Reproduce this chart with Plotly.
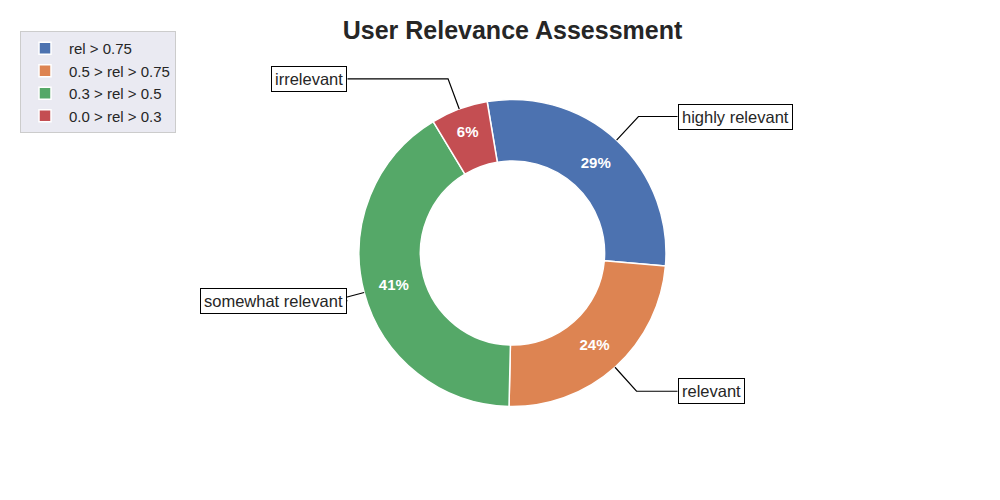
import math
import plotly.graph_objects as go

# ---- data ----
categories = ["rel > 0.75", "0.5 > rel > 0.75", "0.3 > rel > 0.5", "0.0 > rel > 0.3"]
values = [29, 24, 41, 6]
slice_names = ["highly relevant", "relevant", "somewhat relevant", "irrelevant"]
colors = ["#4C72B0", "#DD8452", "#55A868", "#C44E52"]
title = "User Relevance Assessment"

FONT = "Liberation Sans, Arial, sans-serif"

# ---- layout geometry (pixels) ----
W, H = 1000, 500
cx, cy, R = 512.5, 253.0, 153.5
rotation = -9.5  # degrees, clockwise from 12 o'clock

def px(x):
    return x / W

def py(y):
    return 1 - y / H

fig = go.Figure()
fig.add_trace(go.Pie(
    labels=categories,
    values=values,
    sort=False,
    direction="clockwise",
    rotation=rotation,
    hole=0.6,
    marker=dict(colors=colors, line=dict(color="white", width=1.5)),
    texttemplate="%{percent:.0%}",
    textposition="inside",
    insidetextorientation="horizontal",
    textfont=dict(color="white", size=15, family=FONT, weight="bold"),
    domain=dict(x=[px(cx - R), px(cx + R)], y=[py(cy + R), py(cy - R)]),
    showlegend=True,
))

# leader lines and boxed labels computed from slice mid-angles
total = sum(values)
start = rotation
shapes = []
annotations = []
for v, name in zip(values, slice_names):
    span = 360.0 * v / total
    mid_cw = start + span / 2  # clockwise from top
    start += span
    ang = math.radians(90 - mid_cw)
    ux, uy = math.cos(ang), math.sin(ang)
    P = (cx + R * ux, cy - R * uy)  # outer edge point (pixels, y down)
    sgn = 1 if ux >= 0 else -1
    tx = cx + sgn * 1.075 * R
    ty = cy - 1.21 * uy * R
    dy = P[1] - ty
    dx = dy / math.tan(ang)
    corner = (P[0] + dx, ty)
    path = f"M {px(tx)},{py(ty)} L {px(corner[0])},{py(corner[1])} L {px(P[0])},{py(P[1])}"
    shapes.append(dict(type="path", xref="paper", yref="paper", path=path,
                       line=dict(color="black", width=1.2)))
    annotations.append(dict(
        x=px(tx), y=py(ty), xref="paper", yref="paper",
        text=name, showarrow=False,
        xanchor="left" if sgn > 0 else "right", yanchor="middle",
        font=dict(size=16.5, color="#262626", family=FONT),
        bgcolor="white", bordercolor="black", borderwidth=1, borderpad=3,
    ))

fig.update_layout(
    width=W, height=H,
    margin=dict(l=0, r=0, t=0, b=0),
    paper_bgcolor="white",
    plot_bgcolor="white",
    title=dict(text=f"<b>{title}</b>", x=px(cx), xanchor="center", y=py(30), yanchor="middle",
               font=dict(size=25, color="#262626", family=FONT)),
    legend=dict(x=0.02, y=py(31), xanchor="left", yanchor="top",
                bgcolor="#EAEAF2", bordercolor="#CCCCCC", borderwidth=1,
                font=dict(size=15, color="#262626", family=FONT),
                itemwidth=38, tracegroupgap=0),
    shapes=shapes,
    annotations=annotations,
)

fig.write_html("out.html", config={"displayModeBar": False},
               post_script="document.body.style.margin='0';")
